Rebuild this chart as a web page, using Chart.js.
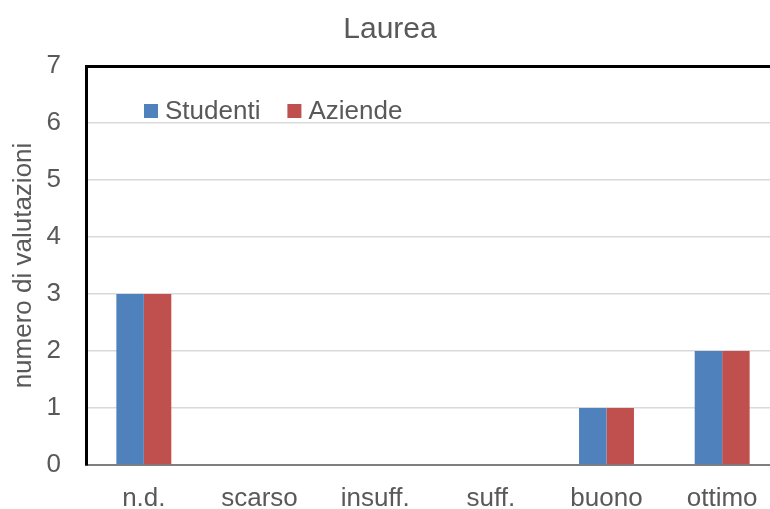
<!DOCTYPE html>
<html lang="it">
  <head>
    <meta charset="UTF-8" />
    <title>Laurea</title>
    <script src="https://cdn.jsdelivr.net/npm/chart.js"></script>
    <style>
      body {
        margin: 0;
        overflow: hidden;
        background: #fff;
      }
    </style>
  </head>
  <body>
    <canvas id="chart" width="790" height="509"></canvas>

    <script>
      const categories = ["n.d.", "scarso", "insuff.", "suff.", "buono", "ottimo"];
      const studenti = [3, 0, 0, 0, 1, 2];
      const aziende = [3, 0, 0, 0, 1, 2];
      const yTicks = [0, 1, 2, 3, 4, 5, 6, 7];

      const FONT = "'Liberation Sans', Arial, sans-serif";
      const GREY_TEXT = "#595959";

      // legend drawn inside the plot area, top-left
      const insideLegend = {
        id: "insideLegend",
        afterDraw(chart) {
          const ctx = chart.ctx;
          ctx.save();
          ctx.font = "26px " + FONT;
          ctx.textBaseline = "middle";
          let x = 144;
          const y = 111;
          chart.data.datasets.forEach((ds) => {
            ctx.fillStyle = ds.backgroundColor;
            ctx.fillRect(x, y - 7, 14, 14);
            x += 21;
            ctx.fillStyle = GREY_TEXT;
            ctx.fillText(ds.label, x, y + 1);
            x += ctx.measureText(ds.label).width + 27;
          });
          ctx.restore();
        },
      };

      new Chart(document.getElementById("chart"), {
        type: "bar",
        data: {
          labels: categories,
          datasets: [
            {
              label: "Studenti",
              data: studenti,
              backgroundColor: "#4f81bd",
            },
            {
              label: "Aziende",
              data: aziende,
              backgroundColor: "#c0504d",
            },
          ],
        },
        options: {
          responsive: false,
          animation: false,
          layout: { padding: { right: 10 } },
          datasets: {
            bar: { barPercentage: 1, categoryPercentage: 0.475 },
          },
          plugins: {
            legend: { display: false },
            tooltip: { enabled: false },
            title: {
              display: true,
              text: "Laurea",
              color: GREY_TEXT,
              font: { family: FONT, size: 30, weight: "normal" },
              padding: { top: 12, bottom: 18 },
            },
          },
          scales: {
            x: {
              afterFit: (s) => {
                s.height = 44;
              },
              grid: { display: false },
              border: { color: "#7f7f7f", width: 2 },
              ticks: {
                color: GREY_TEXT,
                font: { family: FONT, size: 26 },
                padding: 10,
                maxRotation: 0,
              },
            },
            y: {
              min: 0,
              max: 7,
              afterFit: (s) => {
                s.width = 86;
              },
              afterBuildTicks: (s) => {
                s.ticks = yTicks.map((v) => ({ value: v }));
              },
              grid: {
                drawTicks: false,
                color: (c) => (c.tick && c.tick.value === 7 ? "#000" : "#d9d9d9"),
                lineWidth: (c) => (c.tick && c.tick.value === 7 ? 3 : 1.5),
              },
              border: { color: "#000", width: 3 },
              ticks: {
                color: GREY_TEXT,
                font: { family: FONT, size: 26 },
                padding: 25,
              },
              title: {
                display: true,
                text: "numero di valutazioni",
                color: GREY_TEXT,
                font: { family: FONT, size: 26 },
                padding: { top: 8, bottom: 0 },
              },
            },
          },
        },
        plugins: [insideLegend],
      });
    </script>
  </body>
</html>
